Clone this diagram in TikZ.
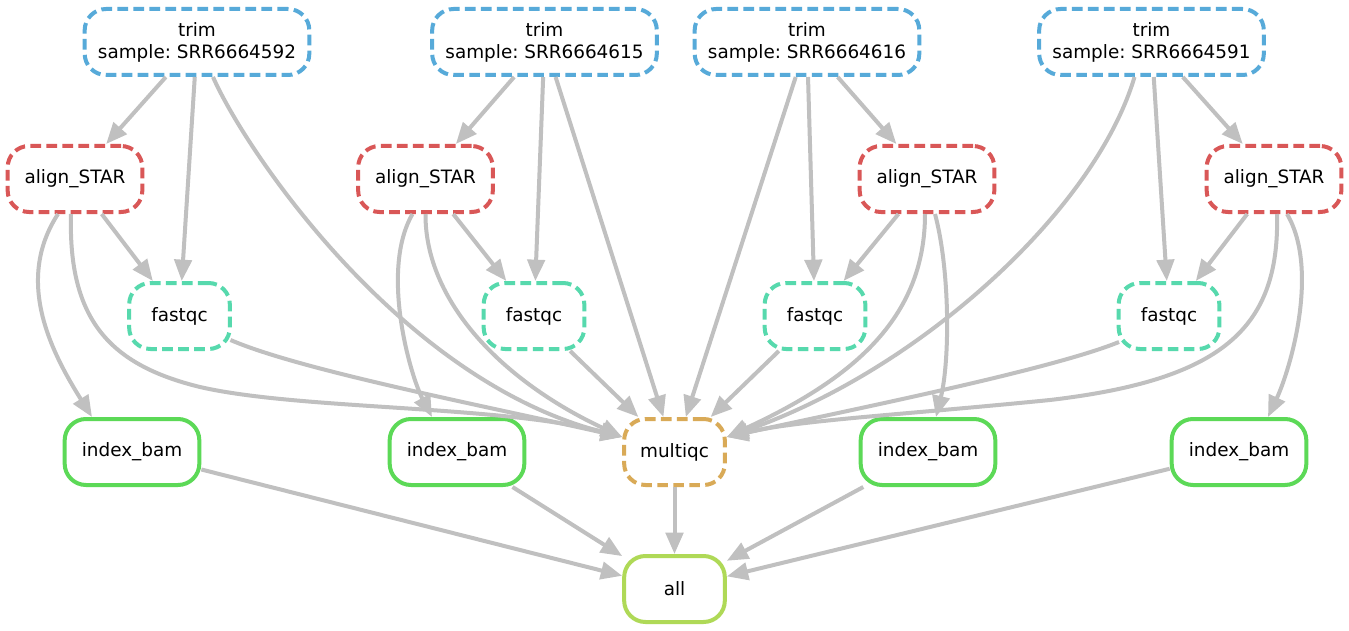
\documentclass[tikz,border=0pt]{standalone}
\usepackage{fontspec}
\setmainfont{DejaVu Sans}
\frenchspacing
\usetikzlibrary{arrows.meta,calc}
\definecolor{ctrim}{RGB}{87,170,217}
\definecolor{calign}{RGB}{217,87,87}
\definecolor{cfastqc}{RGB}{87,217,173}
\definecolor{cindex}{RGB}{92,217,87}
\definecolor{cmulti}{RGB}{217,170,87}
\definecolor{call}{RGB}{175,217,87}
\definecolor{cedge}{RGB}{192,192,192}
\begin{document}
\begin{tikzpicture}[x=0.75pt,y=-0.75pt,
 base/.style={draw, line width=3pt, rounded corners=16pt, minimum height=49.5pt, inner sep=0pt, align=center, font=\fontsize{13.8}{16.5}\selectfont, text=black},
 dashedbox/.style={base, dash pattern=on 8pt off 4pt},
 trimbox/.style={dashedbox, draw=ctrim, minimum width=168.5pt},
 alignbox/.style={dashedbox, draw=calign, minimum width=101pt},
 fastqcbox/.style={dashedbox, draw=cfastqc, minimum width=75.5pt},
 multibox/.style={dashedbox, draw=cmulti, minimum width=75.5pt},
 indexbox/.style={base, draw=cindex, minimum width=101pt},
 allbox/.style={base, draw=call, minimum width=75.5pt},
 conn/.style={draw=cedge, line width=3pt, -{Triangle[length=16pt,width=13pt]}}
]
\fill[white] (0,0) rectangle (1349,631);
\useasboundingbox (0,0) rectangle (1349,631);

% nodes
\node[trimbox] (T1) at (197,42) {trim\\sample: SRR6664592};
\node[trimbox] (T2) at (544.5,42) {trim\\sample: SRR6664615};
\node[trimbox] (T3) at (807,42) {trim\\sample: SRR6664616};
\node[trimbox] (T4) at (1151.5,42) {trim\\sample: SRR6664591};
\node[alignbox] (A1) at (75,179) {align\_STAR};
\node[alignbox] (A2) at (425.5,179) {align\_STAR};
\node[alignbox] (A3) at (927,179) {align\_STAR};
\node[alignbox] (A4) at (1274,179) {align\_STAR};
\node[fastqcbox] (F1) at (179.5,316) {fastqc};
\node[fastqcbox] (F2) at (534,316) {fastqc};
\node[fastqcbox] (F3) at (815,316) {fastqc};
\node[fastqcbox] (F4) at (1169,316) {fastqc};
\node[indexbox] (I1) at (132,452) {index\_bam};
\node[indexbox] (I2) at (457,452) {index\_bam};
\node[multibox] (M) at (674.5,452) {multiqc};
\node[indexbox] (I3) at (928,452) {index\_bam};
\node[indexbox] (I4) at (1239,452) {index\_bam};
\node[allbox] (ALL) at (674.5,589) {all};

\coordinate (ML) at ($(M.west)+(0,-15)$);
\coordinate (MR) at ($(M.east)+(0,-15)$);

% group 1
\draw[conn] (T1) -- (A1);
\draw[conn] (T1) -- (F1);
\draw[conn] ($(T1.south)+(16,0)$) .. controls (245,150) and (400,380) .. (ML);
\draw[conn] (A1) -- (F1);
\draw[conn] ($(A1.south)+(-17,0)$) .. controls (15,280) and (50,350) .. ($(I1.north)+(-40,0)$);
\draw[conn] ($(A1.south)+(-4,0)$) .. controls (68,320) and (110,365) .. (200,387) .. controls (300,410) and (500,405) .. (ML);
\draw[conn] ($(F1.center)+(51,24)$) .. controls (300,370) and (480,405) .. (ML);

% group 2
\draw[conn] (T2) -- (A2);
\draw[conn] (T2) -- (F2);
\draw[conn] (T2) -- (M);
\draw[conn] (A2) -- (F2);
\draw[conn] ($(A2.south)+(-13,0)$) .. controls (380,270) and (410,375) .. ($(I2.north)+(-25,0)$);
\draw[conn] (A2.south) .. controls (425,300) and (500,380) .. (ML);
\draw[conn] (F2) -- (M);

% group 3
\draw[conn] (T3) -- (A3);
\draw[conn] (T3) -- (F3);
\draw[conn] (T3) -- (M);
\draw[conn] (A3) -- (F3);
\draw[conn] ($(A3.south)+(-2,0)$) .. controls (925,320) and (850,380) .. (MR);
\draw[conn] ($(A3.south)+(8,0)$) .. controls (950,270) and (950,360) .. ($(I3.north)+(8,0)$);
\draw[conn] (F3) -- (M);

% group 4
\draw[conn] (T4) -- (A4);
\draw[conn] (T4) -- (F4);
\draw[conn] ($(T4.south)+(-17,0)$) .. controls (1095,210) and (920,370) .. (MR);
\draw[conn] (A4) -- (F4);
\draw[conn] ($(A4.south)+(13,0)$) .. controls (1320,270) and (1290,370) .. ($(I4.north)+(29,0)$);
\draw[conn] ($(A4.south)+(3,0)$) .. controls (1280,330) and (1220,380) .. (1050,400) .. controls (900,415) and (800,420) .. (MR);
\draw[conn] ($(F4.center)+(-50,26)$) .. controls (1050,370) and (850,410) .. (MR);

% bottom
\draw[conn] (I1) -- (ALL);
\draw[conn] (I2) -- (ALL);
\draw[conn] (M) -- (ALL);
\draw[conn] (I3) -- (ALL);
\draw[conn] (I4) -- (ALL);
\end{tikzpicture}
\end{document}
